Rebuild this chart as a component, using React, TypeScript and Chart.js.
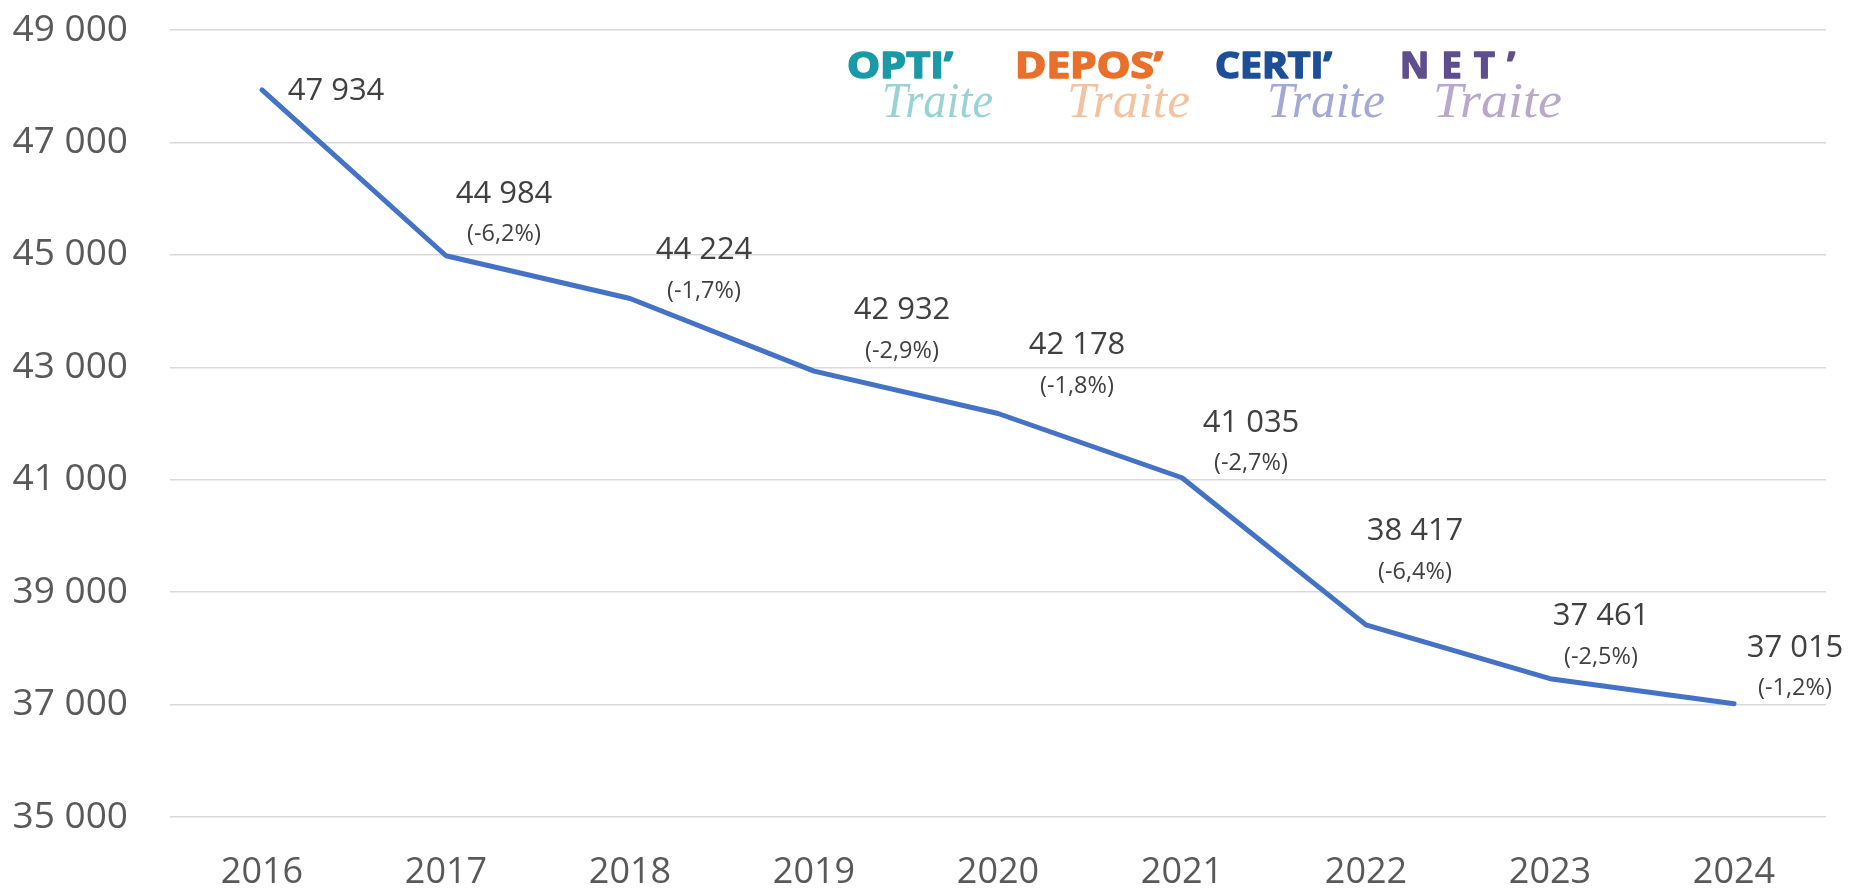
import React, { useEffect, useRef } from 'react';
import { Chart, registerables } from 'chart.js';

Chart.register(...registerables);

const years = ['2016', '2017', '2018', '2019', '2020', '2021', '2022', '2023', '2024'];
const clients = [47934, 44984, 44224, 42932, 42178, 41035, 38417, 37461, 37015];
const changeLabels = ['', '(-6,2%)', '(-1,7%)', '(-2,9%)', '(-1,8%)', '(-2,7%)', '(-6,4%)', '(-2,5%)', '(-1,2%)'];
// label placement relative to each point (dx, dy of value label centre)
const labelDx = [74, 58, 74, 88, 79, 69, 49, 51, 61];
const labelDy = [1, -62, -48, -61, -68, -55, -94, -62, -56];

const Y_MIN = 35000;
const Y_MAX = 49000;
const Y_STEP = 2000;

const logoBrands = ['OPTI\u2019', 'DEPOS\u2019', 'CERTI\u2019', 'NET\u2019'];
const logoBrandColors = ['#1a9aa6', '#e8702a', '#1d4f97', '#5f4e8d'];
const logoScriptColors = ['#98d3d3', '#f3c3a0', '#a3a8d6', '#b8a8c9'];
const logoBrandSpan = [[847, 953], [1015, 1163], [1215, 1332], [1400, 1515]];
const logoBrandSpacing = [0, 0, 0, 12];
const logoScriptSpan = [[882, 993], [1067, 1190], [1267, 1385], [1433, 1562]];

const fmt = (v: number) => String(Math.round(v)).replace(/\B(?=(\d{3})+(?!\d))/g, ' ');

function drawFit(ctx: CanvasRenderingContext2D, text: string, x0: number, x1: number, baseline: number, font: string, color: string, spacing = 0, stroke = 0) {
  ctx.save();
  ctx.font = font;
  ctx.fillStyle = color;
  ctx.strokeStyle = color;
  ctx.textBaseline = 'alphabetic';
  ctx.textAlign = 'left';
  (ctx as any).letterSpacing = spacing + 'px';
  const w = ctx.measureText(text).width - spacing;
  const s = (x1 - x0) / w;
  ctx.translate(x0, baseline);
  ctx.scale(s, 1);
  ctx.fillText(text, 0, 0);
  if (stroke > 0) {
    ctx.lineWidth = stroke;
    ctx.lineJoin = 'round';
    ctx.strokeText(text, 0, 0);
  }
  ctx.restore();
}

const labelPlugin = {
  id: 'labelPlugin',
  afterDatasetsDraw(chart: any) {
    const ctx: CanvasRenderingContext2D = chart.ctx;
    const meta = chart.getDatasetMeta(0);
    ctx.save();
    ctx.textAlign = 'center';
    ctx.textBaseline = 'middle';
    meta.data.forEach((pt: any, i: number) => {
      const cx = pt.x + labelDx[i];
      const cy = pt.y + labelDy[i];
      ctx.fillStyle = '#404040';
      ctx.font = '31px "Open Sans"';
      ctx.fillText(fmt(clients[i]), cx, cy);
      if (changeLabels[i]) {
        ctx.font = '23.5px "Open Sans"';
        ctx.fillText(changeLabels[i], cx, cy + 41);
      }
    });
    ctx.restore();
  },
  afterDraw(chart: any) {
    const ctx: CanvasRenderingContext2D = chart.ctx;
    logoBrands.forEach((b, i) => {
      drawFit(ctx, b, logoBrandSpan[i][0], logoBrandSpan[i][1], 78, 'bold 35px "Open Sans"', logoBrandColors[i], logoBrandSpacing[i], 1.6);
      drawFit(ctx, 'Traite', logoScriptSpan[i][0], logoScriptSpan[i][1], 117, 'italic 50px "Liberation Serif"', logoScriptColors[i]);
    });
  },
};

export default function App() {
  const ref = useRef<HTMLCanvasElement | null>(null);
  useEffect(() => {
    document.body.style.margin = '0';
    const chart = new Chart(ref.current as HTMLCanvasElement, {
      type: 'line',
      data: {
        labels: years,
        datasets: [
          {
            data: clients,
            borderColor: '#4472C4',
            borderWidth: 5,
            pointRadius: 0,
            tension: 0,
            fill: false,
            borderCapStyle: 'round',
            borderJoinStyle: 'round',
          },
        ],
      },
      options: {
        responsive: false,
        animation: false,
        devicePixelRatio: 1,
        layout: { padding: { top: 30, right: 25, left: 0, bottom: 0 } },
        plugins: { legend: { display: false }, tooltip: { enabled: false } },
        scales: {
          x: {
            offset: true,
            grid: { display: false, drawTicks: false },
            border: { display: false },
            ticks: { color: '#595959', font: { family: 'Open Sans', size: 36 }, padding: 34 },
            afterFit: (s: any) => { s.height = 72; s.paddingLeft = 0; s.paddingRight = 0; },
          },
          y: {
            min: Y_MIN,
            max: Y_MAX,
            grid: { color: '#d9d9d9', lineWidth: 1.5, drawTicks: false },
            border: { display: false },
            ticks: {
              stepSize: Y_STEP,
              color: '#595959',
              font: { family: 'Open Sans', size: 37 },
              padding: 42,
              callback: (v: any) => fmt(Number(v)),
            },
            afterFit: (s: any) => { s.width = 170; s.paddingTop = 0; s.paddingBottom = 0; },
          },
        },
      },
      plugins: [labelPlugin],
    } as any);
    return () => chart.destroy();
  }, []);
  return (
    <div style={{ position: 'absolute', left: 0, top: 0, width: 1851, height: 889, background: '#fff' }}>
      <canvas ref={ref} width={1851} height={889} />
    </div>
  );
}
